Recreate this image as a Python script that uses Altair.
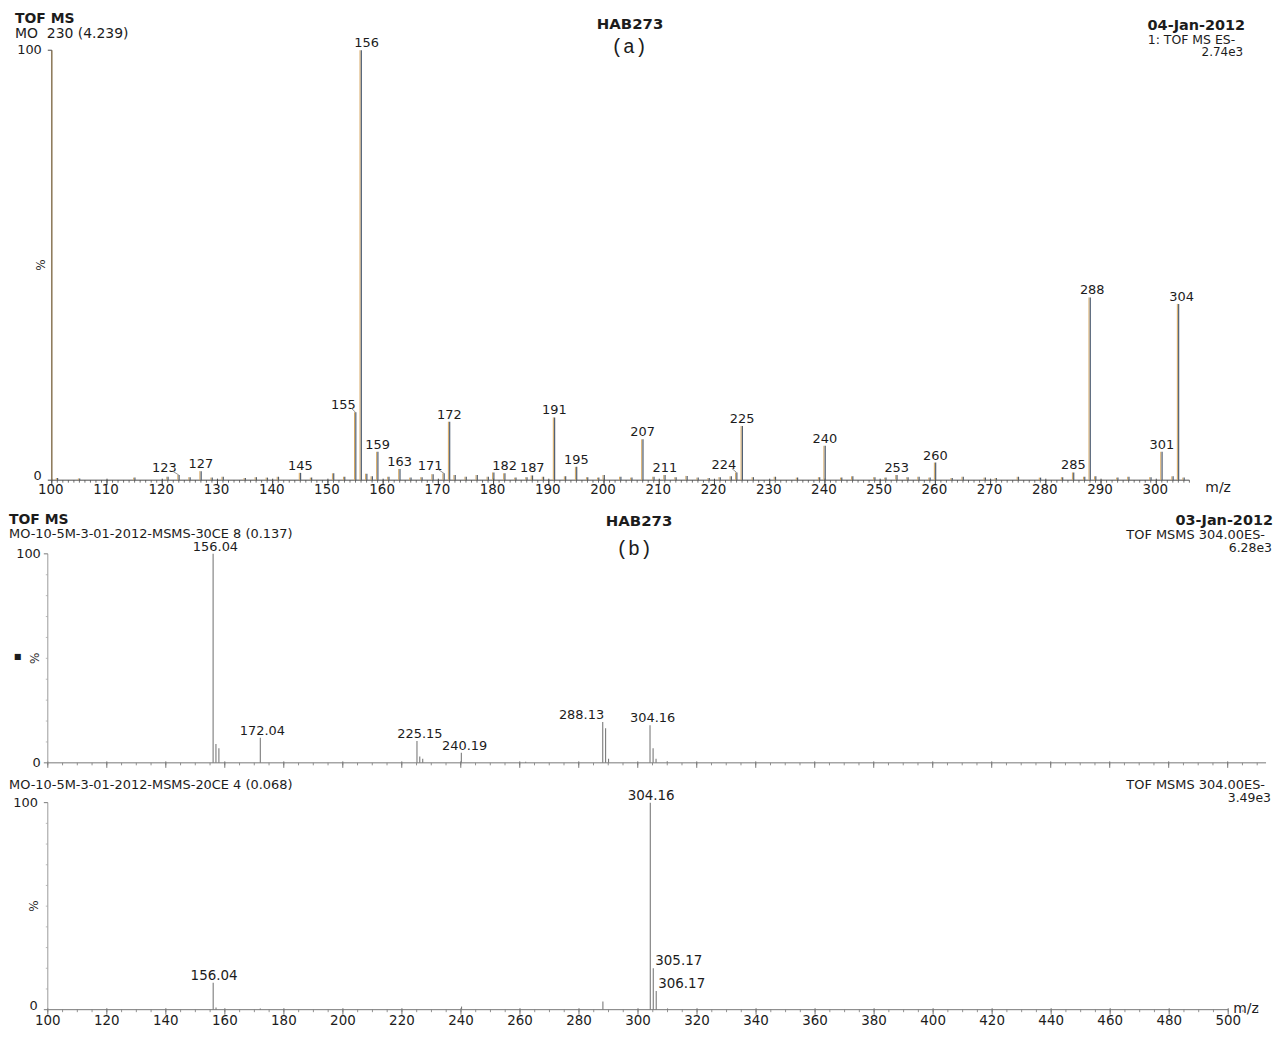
import altair as alt
import pandas as pd

# ---------------- data ----------------
# Panel (a): TOF MS, MO 230
a_mz = [101, 105, 115, 121, 123, 125, 127, 129, 131, 135,
        137, 139, 141, 145, 147, 151, 153, 155, 156, 157,
        158, 159, 161, 163, 165, 167, 169, 171, 172, 173,
        175, 177, 179, 180, 182, 184, 186, 187, 189, 191,
        193, 195, 197, 199, 200, 203, 205, 207, 209, 211,
        213, 215, 217, 219, 221, 223, 224, 225, 227, 231,
        235, 239, 240, 243, 245, 249, 251, 253, 255, 257,
        259, 260, 263, 265, 269, 271, 275, 279, 283, 285,
        287, 288, 289, 293, 295, 299, 301, 303, 304, 305]
a_int = [0.5, 0.4, 0.6, 0.8, 1.2, 0.7, 2.1, 0.6, 0.8, 0.5,
         0.7, 0.6, 0.8, 1.7, 0.6, 1.6, 0.8, 15.8, 100, 1.5,
         0.9, 6.6, 0.8, 2.6, 0.6, 0.7, 1.4, 1.6, 13.6, 1.2,
         0.8, 1.2, 0.8, 1.8, 1.6, 0.6, 0.7, 1.1, 0.8, 14.6,
         0.9, 3.1, 0.7, 0.6, 1.2, 0.8, 0.6, 9.5, 0.8, 1.2,
         0.7, 1.0, 0.6, 0.5, 0.7, 0.9, 1.8, 12.6, 0.7, 0.8,
         0.6, 0.7, 8.0, 0.6, 0.9, 0.7, 0.6, 1.2, 0.7, 0.8,
         0.6, 4.1, 0.5, 0.8, 0.6, 0.5, 0.8, 0.6, 0.7, 1.8,
         0.8, 42.5, 0.9, 0.6, 0.8, 0.7, 6.6, 0.9, 41.0, 0.6]
a_labels = [123, 127, 145, 155, 156, 159, 163, 171, 172, 182, 187, 191,
            195, 207, 211, 224, 225, 240, 253, 260, 285, 288, 301, 304]
a_ticks = list(range(100, 301, 10))
a_minor = list(range(100, 307))

# Panel (b): MSMS 30CE
b_mz = [156.04, 157.0, 158.0, 172.04, 225.15, 226.1, 227.1, 240.19,
        262.0, 288.13, 289.1, 290.1, 304.16, 305.2, 306.2, 310.0]
b_int = [100, 9, 7, 12, 10.5, 3, 2, 4.8, 0.5, 19.5, 16.5, 2, 18, 7, 2, 0.8]
b_labels = [156.04, 172.04, 225.15, 240.19, 288.13, 304.16]

# Panel (c): MSMS 20CE
c_mz = [156.04, 157.0, 172.0, 240.2, 288.1, 304.16, 305.17, 306.17, 310.0]
c_int = [13, 1, 0.6, 1.5, 4, 100, 20, 9, 0.6]
c_labels_above = [156.04, 304.16]
c_labels_side = [305.17, 306.17]

bc_ticks = list(range(100, 501, 20))
bc_minor = list(range(100, 511, 5))
y_ticks = [0, 100]
y_minor = list(range(10, 100, 10))

# ---------------- layout ----------------
FONT = "DejaVu Sans"
MONO = "Liberation Mono"
TXT = "#1c1c1c"

# panel geometry: width, block height, x domain, y domain
WA, HA = 1147, 506
WB, HB = 1224, 250
WC, HC = 1186, 208
XA, YA = [99.28, 306], [-17.13, 100]
XB, YB = [100, 513], [-19.048, 100]
XC, YC = [100, 500], [0, 100]


def df(**cols):
    return pd.DataFrame(cols)


def txt(s, x, y, align="left", size=15, weight="normal", font=FONT, angle=0):
    return alt.Chart(pd.DataFrame({"t": [s]})).mark_text(
        align=align, baseline="middle", font=font, fontSize=size,
        fontWeight=weight, color=TXT, angle=angle).encode(
        x=alt.value(x), y=alt.value(y), text="t:N")


def panel(p):
    xs = alt.Scale(domain=p["xdom"], nice=False, zero=False)
    ys = alt.Scale(domain=p["ydom"], nice=False, zero=False)
    ux = (p["xdom"][1] - p["xdom"][0]) / p["w"]   # data units per pixel
    uy = (p["ydom"][1] - p["ydom"][0]) / p["h"]

    def X(f):
        return alt.X(f, type="quantitative", scale=xs, axis=None)

    def Y(f):
        return alt.Y(f, type="quantitative", scale=ys, axis=None)

    layers = []
    ax_col = p["axis_color"]
    # x axis line, ticks, labels
    layers.append(alt.Chart(df(a=[p["x0"]], b=[p["x1"]], y=[0.0]))
                  .mark_rule(color=ax_col, strokeWidth=1)
                  .encode(x=X("a"), x2="b", y=Y("y")))
    layers.append(alt.Chart(df(v=p["minor"], y0=[0.0] * len(p["minor"]),
                               y1=[-2.5 * uy] * len(p["minor"])))
                  .mark_rule(color=ax_col, strokeWidth=0.8)
                  .encode(x=X("v"), y=Y("y0"), y2="y1"))
    layers.append(alt.Chart(df(v=p["ticks"], y0=[1.5 * uy] * len(p["ticks"]),
                               y1=[-5 * uy] * len(p["ticks"])))
                  .mark_rule(color=ax_col, strokeWidth=1)
                  .encode(x=X("v"), y=Y("y0"), y2="y1"))
    if p["tick_labels"]:
        layers.append(alt.Chart(df(v=p["ticks"], t=[str(v) for v in p["ticks"]],
                                   y=[0.0] * len(p["ticks"])))
                      .mark_text(baseline="middle", dx=p["tick_dx"], dy=p["tick_dy"],
                                 font=FONT, fontSize=p["tick_size"], color=TXT)
                      .encode(x=X("v"), y=Y("y"), text="t:N"))
    # y axis line, ticks, labels
    layers.append(alt.Chart(df(x=[p["x0"]], a=[0.0], b=[100.0]))
                  .mark_rule(color=p["yaxis_color"], strokeWidth=p["yaxis_width"])
                  .encode(x=X("x"), y=Y("a"), y2="b"))
    layers.append(alt.Chart(df(y=y_ticks, a=[p["x0"] - 4 * ux] * 2, b=[p["x0"]] * 2))
                  .mark_rule(color=ax_col, strokeWidth=1)
                  .encode(x=X("a"), x2="b", y=Y("y")))
    if p["y_minor"]:
        n = len(y_minor)
        layers.append(alt.Chart(df(y=y_minor, a=[p["x0"] - 2 * ux] * n, b=[p["x0"]] * n))
                      .mark_rule(color="#aaaaaa", strokeWidth=0.8)
                      .encode(x=X("a"), x2="b", y=Y("y")))
    lift = p["zero_lift"] * uy
    layers.append(alt.Chart(df(y=[v + (lift if v == 0 else 0.0) for v in y_ticks],
                               t=[str(v) for v in y_ticks],
                               x=[p["x0"]] * 2))
                  .mark_text(align="right", baseline="middle", dx=p["ylab_dx"], font=FONT,
                             fontSize=13, color=TXT)
                  .encode(x=X("x"), y=Y("y"), text="t:N"))

    # peaks
    d = df(mz=p["mz"], inten=p["int"], base=[0.0] * len(p["mz"]))
    for color, off, sw in p["peak_strokes"]:
        layers.append(alt.Chart(d).mark_rule(color=color, strokeWidth=sw, xOffset=off)
                      .encode(x=X("mz"), y=Y("inten"), y2="base"))

    lookup = dict(zip(p["mz"], p["int"]))
    labels = p["labels"]
    fmt = (lambda v: f"{v:.2f}") if isinstance(labels[0], float) else str
    shifts = p["shifts"]
    lab = df(t=[fmt(v) for v in labels],
             lx=[v + shifts.get(v, 0.0) for v in labels],
             ly=[lookup[v] for v in labels])
    layers.append(alt.Chart(lab).mark_text(
        align="center", baseline="bottom", dy=0, font=FONT,
        fontSize=p["label_size"], color=TXT)
        .encode(x=X("lx"), y=Y("ly"), text="t:N"))
    if p.get("leaders"):
        ld = p["leaders"]
        layers.append(alt.Chart(df(
            a=[v + shifts[v] + 8 * ux for v in ld],
            b=[float(v) for v in ld],
            c=[lookup[v] + 4 * uy for v in ld],
            e=[lookup[v] for v in ld]))
            .mark_rule(color="#777777", strokeWidth=0.8)
            .encode(x=X("a"), x2="b", y=Y("c"), y2="e"))
    if p.get("side"):
        sd = p["side"]
        layers.append(alt.Chart(df(t=[f"{v:.2f}" for v in sd], lx=list(sd),
                                   ly=[lookup[v] for v in sd]))
                      .mark_text(align="left", baseline="bottom", dx=2, dy=0,
                                 font=FONT, fontSize=p["label_size"], color=TXT)
                      .encode(x=X("lx"), y=Y("ly"), text="t:N"))
    layers.extend(p["texts"])
    return alt.layer(*layers).properties(width=p["w"], height=p["h"])


panelA = panel(dict(
    w=WA, h=HA, xdom=XA, ydom=YA, x0=100, x1=306,
    ticks=a_ticks, minor=a_minor, tick_labels=True, tick_size=13.5,
    tick_dx=-1, tick_dy=10, ylab_dx=-10, zero_lift=4,
    axis_color="#4a4a4a", yaxis_color="#8f7d5e", yaxis_width=1.6, y_minor=False,
    mz=a_mz, int=a_int,
    peak_strokes=[("#d6a55c", -1.0, 1.0), ("#4f5f74", 0.3, 1.2)],
    labels=a_labels, label_size=13,
    shifts={123: -2.6, 155: -2.2, 156: 1.0, 171: -2.5, 224: -2.3, 288: 0.4, 304: 0.6},
    leaders=[123, 155, 171, 224],
    texts=[
        alt.Chart(df(a=[0])).mark_rule(color="white").encode(
            x=alt.value(-39), x2=alt.value(-20), y=alt.value(-39)),
        txt("TOF MS", -33, -31, size=14, weight="bold"),
        txt("MO\u00a0 230 (4.239)", -33, -16, size=14),
        txt("HAB273", 585, -26, align="center", size=15, weight="bold"),
        txt("(a)", 584, -3, align="center", size=20, font=MONO),
        txt("04-Jan-2012", 1203, -24, align="right", size=14.5, weight="bold"),
        txt("1: TOF MS ES-", 1193, -10, align="right", size=12.5),
        txt("2.74e3", 1201, 2, align="right", size=12),
        txt("m/z", 1163, 440, size=14),
        txt("%", -7, 216, align="center", size=12, angle=270),
    ],
))

panelB = panel(dict(
    w=WB, h=HB, xdom=XB, ydom=YB, x0=100, x1=513,
    ticks=bc_ticks, minor=bc_minor, tick_labels=False, tick_size=13.5,
    tick_dx=0, tick_dy=10, ylab_dx=-7, zero_lift=0,
    axis_color="#777777", yaxis_color="#9a9a9a", yaxis_width=1, y_minor=True,
    mz=b_mz, int=b_int,
    peak_strokes=[("#7a7a7a", 0.0, 1.1)],
    labels=b_labels, label_size=13,
    shifts={156.04: 0.8, 172.04: 0.7, 225.15: 1.0, 240.19: 1.1, 288.13: -7.2, 304.16: 0.9},
    texts=[
        txt("TOF MS", -39, -34, size=14, weight="bold"),
        txt("MO-10-5M-3-01-2012-MSMS-30CE 8 (0.137)", -39, -20, size=13),
        txt("HAB273", 594, -33, align="center", size=15, weight="bold"),
        txt("(b)", 589, -5, align="center", size=20, font=MONO),
        txt("03-Jan-2012", 1231, -33, align="right", size=14.5, weight="bold"),
        txt("TOF MSMS 304.00ES-", 1223, -19, align="right", size=13),
        txt("6.28e3", 1230, -6, align="right", size=12.5),
        txt("\u25a0", -34, 104, size=8),
        txt("%", -13, 105, align="center", size=12, angle=270),
    ],
))

panelC = panel(dict(
    w=WC, h=HC, xdom=XC, ydom=YC, x0=100, x1=500,
    ticks=bc_ticks, minor=bc_minor, tick_labels=True, tick_size=13.5,
    tick_dx=0, tick_dy=11, ylab_dx=-10, zero_lift=3.5,
    axis_color="#777777", yaxis_color="#9a9a9a", yaxis_width=1, y_minor=True,
    mz=c_mz, int=c_int,
    peak_strokes=[("#7a7a7a", 0.0, 1.1)],
    labels=c_labels_above, label_size=13.5,
    shifts={156.04: 0.3, 304.16: 0.3},
    side=c_labels_side,
    texts=[
        txt("MO-10-5M-3-01-2012-MSMS-20CE 4 (0.068)", -39, -18, size=13),
        txt("TOF MSMS 304.00ES-", 1223, -18, align="right", size=13),
        txt("3.49e3", 1229, -5, align="right", size=12.5),
        txt("m/z", 1191, 207, size=14),
        txt("%", -14, 104, align="center", size=12, angle=270),
    ],
))

chart = alt.vconcat(panelA, panelB, panelC, spacing=0, bounds="flush").properties(
    padding=0, background="white"
).configure_view(stroke="transparent")

chart.save("out.html", embed_options={"renderer": "svg", "actions": False})
